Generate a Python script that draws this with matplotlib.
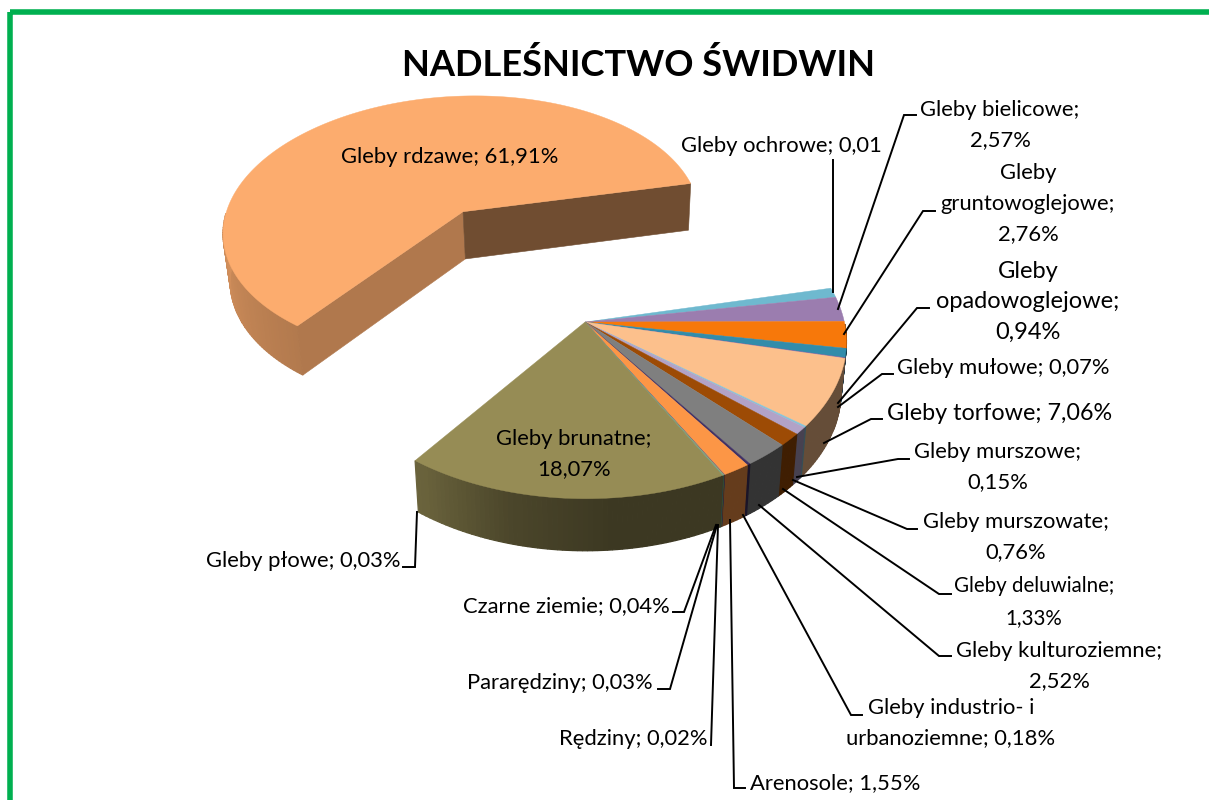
import numpy as np
import matplotlib
matplotlib.use("Agg")
import matplotlib.pyplot as plt
from matplotlib.patches import Polygon, Rectangle

plt.rcParams['font.family'] = ['Lato', 'DejaVu Sans']

# data, clockwise from the top right. ochrowe is drawn as 1 although its label says 0,01
names = ["Gleby ochrowe", "Gleby bielicowe", "Gleby gruntowoglejowe", "Gleby opadowoglejowe",
         "Gleby mułowe", "Gleby torfowe", "Gleby murszowe", "Gleby murszowate",
         "Gleby deluwialne", "Gleby kulturoziemne", "Gleby industrio- i urbanoziemne",
         "Arenosole", "Rędziny", "Pararędziny", "Czarne ziemie", "Gleby płowe",
         "Gleby brunatne", "Gleby rdzawe"]
values = [1.0, 2.57, 2.76, 0.94, 0.07, 7.06, 0.15, 0.76, 1.33, 2.52, 0.18, 1.55,
          0.02, 0.03, 0.04, 0.03, 18.07, 61.91]
colors = ["#6FB9CF", "#9B7DAF", "#F7780A", "#328CAA", "#8064A2", "#FCC08C", "#87C3D7",
          "#B2A2C7", "#9D4B05", "#7F7F7F", "#403164", "#FC9646", "#4F81BD", "#C0504D",
          "#9BBB59", "#4BACC6", "#968C55", "#FCAC6E"]

# label text, anchor, font size and leader line, in picture pixels
labels = [
    ("Gleby ochrowe; 0,01", 781, 146, 15.8, [(832.5, 160), (832.5, 292)]),
    ("Gleby bielicowe;\n2,57%", 1000, 125, 15.8, [(916, 115), (904, 115), (838, 309)]),
    ("Gleby\ngruntowoglejowe;\n2,76%", 1028, 204, 15.8, [(935, 211), (923, 211), (844, 334)]),
    ("Gleby\nopadowoglejowe;\n0,94%", 1028, 302, 17.0, [(929, 308), (917, 308), (838, 403)]),
    ("Gleby mułowe; 0,07%", 1003, 368, 15.8, [(893, 374), (882, 374), (838, 407)]),
    ("Gleby torfowe; 7,06%", 1000, 414, 16.8, [(882, 419), (871, 419), (824, 443)]),
    ("Gleby murszowe;\n0,15%", 998, 467, 15.8, [(909, 459), (898, 459), (797, 477)]),
    ("Gleby murszowate;\n0,76%", 1016, 537, 15.8, [(917, 529), (907, 529), (793, 480)]),
    ("Gleby deluwialne;\n1,33%", 1034, 602, 14.8, [(951, 594), (939, 594), (783, 489)]),
    ("Gleby kulturoziemne;\n2,52%", 1059, 666, 15.8, [(951, 656), (939, 656), (759, 505)]),
    ("Gleby industrio- i\nurbanoziemne; 0,18%", 951, 723, 15.8, [(862, 715), (851, 715), (743, 515)]),
    ("Arenosole; 1,55%", 835, 783, 15.8, [(745, 788), (734, 788), (730, 520)]),
    ("Rędziny; 0,02%", 633, 739, 15.8, [(711, 745), (718, 525)]),
    ("Pararędziny; 0,03%", 560, 683, 15.8, [(658, 689), (670, 689), (717, 525)]),
    ("Czarne ziemie; 0,04%", 566, 606, 15.8, [(673, 612), (684, 612), (716, 525)]),
    ("Gleby płowe; 0,03%", 303, 561, 15.8, [(403, 567), (415, 567), (417, 512)]),
    ("Gleby brunatne;\n18,07%", 574, 454, 15.8, None),
    ("Gleby rdzawe; 61,91%", 450, 157, 15.8, None),
]

TITLE = "NADLEŚNICTWO ŚWIDWIN"

# perspective of the pie plane, fitted on the picture
VX, YH = 580, -935
RX, RZ = 0.2063, 0.98
X0, Z0 = 0.004, 7.955
START = 13.0
EXPLODE = 0.935
SHADE_A = [-180, -165, -124, -105, -85, 0, 180]
SHADE_F = [0.85, 0.81, 0.70, 0.50, 0.40, 0.40, 0.40]


def project(cx, cz, ang):
    a = np.radians(ang)
    X = cx + RX * np.cos(a)
    Z = cz + RZ * np.sin(a)
    y = YH + 1e4 / Z
    return np.column_stack([VX + X * (y - YH), y])


def center_xy(cx, cz):
    y = YH + 1e4 / cz
    return np.array([[VX + cx * (y - YH), y]])


def down(pts):
    # same points on the underside of the slab
    out = pts.copy()
    out[:, 0] = VX + (pts[:, 0] - VX) * 0.98
    out[:, 1] = pts[:, 1] + 47 + (pts[:, 1] - 200) * 0.017
    return out


def shaded(color, f):
    c = np.array(matplotlib.colors.to_rgb(color))
    return tuple(c * f)


def draw_slice(ax, cx, cz, a1, a2, color, cuts=False):
    # a1 > a2, going clockwise
    n = max(2, int((a1 - a2) / 1.0) + 2)
    angs = np.linspace(a1, a2, n)
    rim = project(cx, cz, angs)
    apex = center_xy(cx, cz)
    for i in range(n - 1):
        mid = ((angs[i] + angs[i + 1]) / 2 + 180) % 360 - 180
        # back of the rim never shows
        if np.sin(np.radians(mid)) > -0.02:
            continue
        q = np.vstack([rim[i:i + 2], down(rim[i:i + 2])[::-1]])
        f = np.interp(mid, SHADE_A, SHADE_F)
        fc = shaded(color, f)
        ax.add_patch(Polygon(q, closed=True, fc=fc, ec=fc, lw=0.9, zorder=2))
    if cuts:
        for end, f in ((rim[0], 0.70), (rim[-1], 0.445)):
            q = np.vstack([apex, end[None], down(end[None]), down(apex)])
            fc = shaded(color, f)
            ax.add_patch(Polygon(q, closed=True, fc=fc, ec=fc, lw=0.4, zorder=2))
    top = np.vstack([apex, rim])
    ax.add_patch(Polygon(top, closed=True, fc=color, ec=color, lw=0.3, zorder=3))


fig = plt.figure(figsize=(12.09, 8), dpi=100)
ax = fig.add_axes([0, 0, 1, 1])
ax.set_xlim(0, 1209)
ax.set_ylim(800, 0)
ax.axis("off")

# green frame, only left and top are inside the picture
ax.add_patch(Rectangle((9.8, 12), 1300, 900, fc="none", ec="#00B050", lw=4.0, zorder=1))

fractions = np.array(values) / np.sum(values) * 360
edges = START - np.concatenate([[0], np.cumsum(fractions)])

# exploded big slice first, it lies behind
big = len(values) - 1
mid = (edges[big] + edges[big + 1]) / 2
cx = X0 + EXPLODE * RX * np.cos(np.radians(mid))
cz = Z0 + EXPLODE * RZ * np.sin(np.radians(mid))
draw_slice(ax, cx, cz, edges[big], edges[big + 1], colors[big], cuts=True)

for i in range(big):
    draw_slice(ax, X0, Z0, edges[i], edges[i + 1], colors[i])

ax.text(638, 65, TITLE, fontsize=26.1, fontweight="bold", ha="center", va="center", zorder=6)

for text, lx, ly, size, leader in labels:
    # keep the same pixel distance between lines whatever the size
    ax.text(lx, ly, text, fontsize=size, ha="center", va="center",
            linespacing=1.66 * 15.8 / size, color="black", zorder=6)
    if leader:
        xs, ys = zip(*leader)
        ax.plot(xs, ys, color="black", lw=1.4, zorder=5, solid_joinstyle="miter")

fig.savefig("out.png", dpi=100)
